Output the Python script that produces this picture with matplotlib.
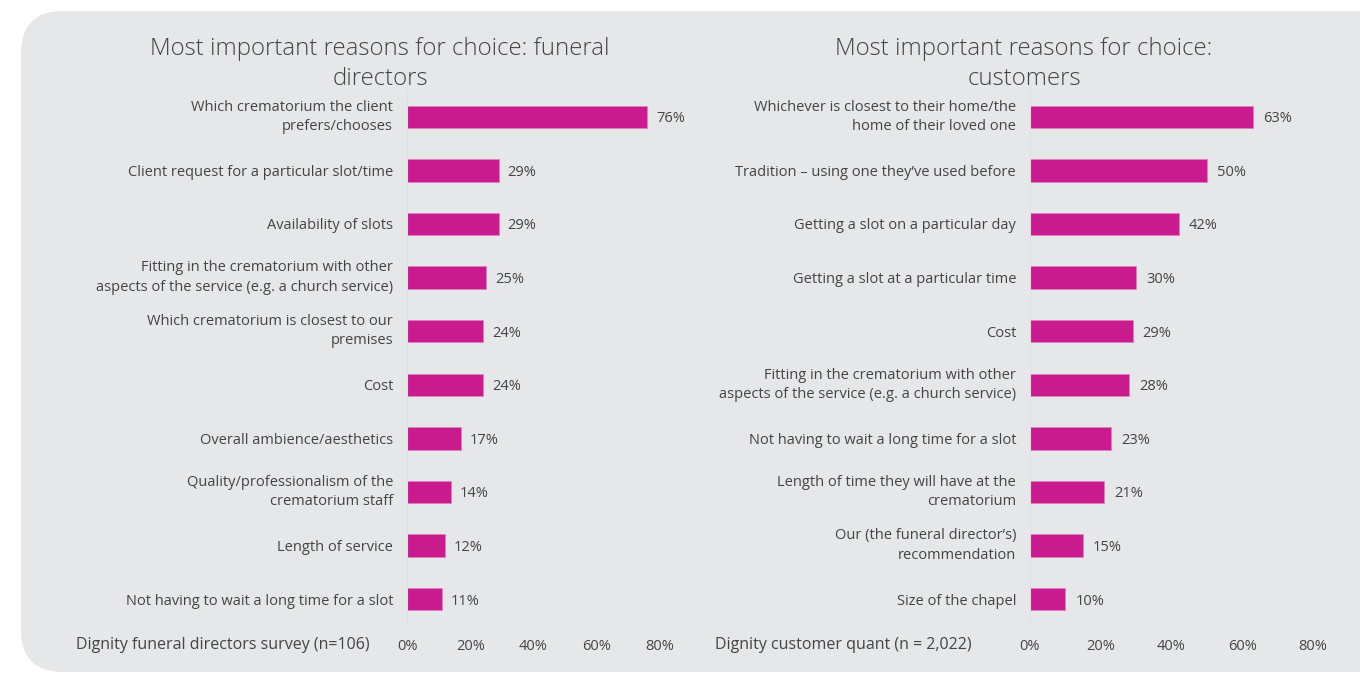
import matplotlib.pyplot as plt
from matplotlib.patches import FancyBboxPatch
from matplotlib.transforms import IdentityTransform

plt.rcParams['font.family'] = ['Open Sans', 'DejaVu Sans']

# Data
fd_labels = ["Which crematorium the client\nprefers/chooses",
             "Client request for a particular slot/time",
             "Availability of slots",
             "Fitting in the crematorium with other\naspects of the service (e.g. a church service)",
             "Which crematorium is closest to our\npremises",
             "Cost",
             "Overall ambience/aesthetics",
             "Quality/professionalism of the\ncrematorium staff",
             "Length of service",
             "Not having to wait a long time for a slot"]
fd_values = [76, 29, 29, 25, 24, 24, 17, 14, 12, 11]

cu_labels = ["Whichever is closest to their home/the\nhome of their loved one",
             "Tradition \u2013 using one they\u2019ve used before",
             "Getting a slot on a particular day",
             "Getting a slot at a particular time",
             "Cost",
             "Fitting in the crematorium with other\naspects of the service (e.g. a church service)",
             "Not having to wait a long time for a slot",
             "Length of time they will have at the\ncrematorium",
             "Our (the funeral director\u2019s)\nrecommendation",
             "Size of the chapel"]
cu_values = [63, 50, 42, 30, 29, 28, 23, 21, 15, 10]

ticks = [0, 20, 40, 60, 80]

bar_color = '#C91B8D'
text_color = '#444444'
panel_color = '#E6E7E9'

W, H = 1360, 673
fig = plt.figure(figsize=(W / 100, H / 100), dpi=100)
fig.patch.set_facecolor('white')

# grey rounded panel (pixel coords)
panel = FancyBboxPatch((21, 1), 1420, 661, boxstyle="round,pad=0,rounding_size=42",
                       transform=IdentityTransform(), facecolor=panel_color,
                       edgecolor='none', zorder=-5)
fig.patches.append(panel)


def draw(left, right, labels, values, title, title_x, footer, footer_x):
    ax = fig.add_axes([left / W, 1 - 626 / H, (right - left) / W, (626 - 90) / H])
    ax.set_facecolor('none')
    y = list(range(len(values)))
    ax.barh(y, values, height=0.42, color=bar_color, edgecolor='#E080C0', linewidth=0.6)
    ax.set_ylim(len(values) - 0.5, -0.5)
    ax.set_xlim(0, 80)
    ax.set_yticks(y)
    ax.set_yticklabels(labels, fontsize=10.5, color=text_color, linespacing=1.4)
    for lab in ax.get_yticklabels():
        if '\n' in lab.get_text():
            lab.set_va('center')
    ax.set_xticks(ticks)
    ax.set_xticklabels([f"{t}%" for t in ticks], fontsize=10.5, color=text_color)
    ax.tick_params(axis='x', length=0, pad=9)
    ax.tick_params(axis='y', length=0, pad=10)
    for s in ['top', 'right', 'bottom']:
        ax.spines[s].set_visible(False)
    ax.spines['left'].set_color('#DFE0E2')
    for yi, v in zip(y, values):
        ax.text(v + 2.8, yi, f"{v}%", va='center_baseline', ha='left', fontsize=10.5,
                color=text_color, clip_on=False)
    fig.text(title_x / W, 1 - 64 / H, title, ha='center', va='center',
             fontsize=17.3, color=text_color, linespacing=1.35, fontweight='light')
    fig.text(footer_x / W, 1 - 645 / H, footer, ha='left', va='center',
             fontsize=11.5, color=text_color)


draw(407, 660, fd_labels, fd_values,
     "Most important reasons for choice: funeral\ndirectors", 380,
     "Dignity funeral directors survey (n=106)", 76)
draw(1030, 1313, cu_labels, cu_values,
     "Most important reasons for choice:\ncustomers", 1024,
     "Dignity customer quant (n = 2,022)", 715)

fig.savefig('out.png', dpi=100)
